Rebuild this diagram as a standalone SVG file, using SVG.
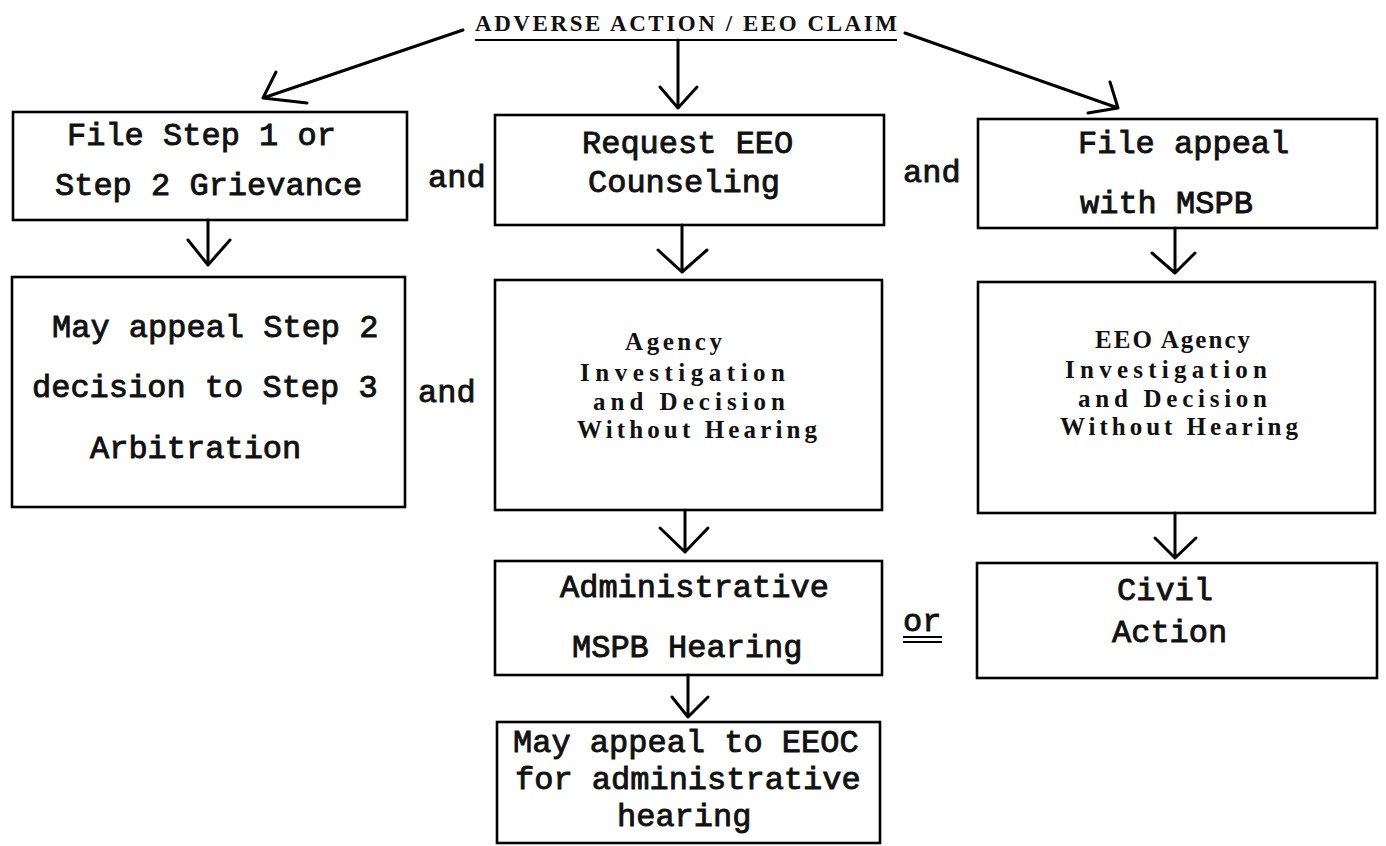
<svg xmlns="http://www.w3.org/2000/svg" width="1386" height="846" viewBox="0 0 1386 846">
<style>
.box{fill:none;stroke:#000;stroke-width:2.6}
.mono{font-family:"Liberation Mono","Courier New",monospace;font-size:32px;font-weight:normal;fill:#111;stroke:#111;stroke-width:0.9}
.serif{font-family:"Liberation Serif","Times New Roman",serif;font-size:25px;font-weight:bold;fill:#111}
.title{font-family:"Liberation Serif","Times New Roman",serif;font-size:23px;font-weight:bold;fill:#111}
.conn path{fill:none;stroke:#000;stroke-width:3;stroke-linecap:round;stroke-linejoin:round}
.ul{stroke:#000;stroke-width:2.2}
</style>
<rect width="1386" height="846" fill="#fff"/>
<g id="title">
  <text class="title" x="475" y="31" textLength="422" lengthAdjust="spacing">ADVERSE ACTION / EEO CLAIM</text>
  <line class="ul" x1="475" y1="40" x2="897" y2="40"/>
</g>
<g id="n1">
  <rect class="box" x="13" y="112" width="394" height="108"/>
  <text class="mono" x="67" y="145">File Step 1 or</text>
  <text class="mono" x="55" y="195">Step 2 Grievance</text>
</g>
<g id="n2">
  <rect class="box" x="495" y="115" width="389" height="110"/>
  <text class="mono" x="582" y="153">Request EEO</text>
  <text class="mono" x="588" y="192">Counseling</text>
</g>
<g id="n3">
  <rect class="box" x="978" y="119" width="399" height="109"/>
  <text class="mono" x="1078" y="153">File appeal</text>
  <text class="mono" x="1080" y="213">with MSPB</text>
</g>
<g id="n4">
  <rect class="box" x="12" y="277" width="393" height="230"/>
  <text class="mono" x="52" y="337">May appeal Step 2</text>
  <text class="mono" x="32" y="397">decision to Step 3</text>
  <text class="mono" x="90" y="458">Arbitration</text>
</g>
<g id="n5">
  <rect class="box" x="495" y="280" width="387" height="230"/>
  <text class="serif" x="625" y="350" textLength="97" lengthAdjust="spacing">Agency</text>
  <text class="serif" x="580" y="381" textLength="205" lengthAdjust="spacing">Investigation</text>
  <text class="serif" x="593" y="410" textLength="192" lengthAdjust="spacing">and Decision</text>
  <text class="serif" x="577" y="438" textLength="240" lengthAdjust="spacing">Without Hearing</text>
</g>
<g id="n6">
  <rect class="box" x="978" y="282" width="397" height="231"/>
  <text class="serif" x="1095" y="348" textLength="155" lengthAdjust="spacing">EEO Agency</text>
  <text class="serif" x="1065" y="378" textLength="202" lengthAdjust="spacing">Investigation</text>
  <text class="serif" x="1078" y="407" textLength="189" lengthAdjust="spacing">and Decision</text>
  <text class="serif" x="1060" y="435" textLength="238" lengthAdjust="spacing">Without Hearing</text>
</g>
<g id="n7">
  <rect class="box" x="495" y="561" width="387" height="114"/>
  <text class="mono" x="560" y="597">Administrative</text>
  <text class="mono" x="572" y="657">MSPB Hearing</text>
</g>
<g id="n8">
  <rect class="box" x="497" y="722" width="383" height="121"/>
  <text class="mono" x="513" y="752">May appeal to EEOC</text>
  <text class="mono" x="515" y="789">for administrative</text>
  <text class="mono" x="617" y="826">hearing</text>
</g>
<g id="n9">
  <rect class="box" x="977" y="563" width="400" height="115"/>
  <text class="mono" x="1117" y="600">Civil</text>
  <text class="mono" x="1112" y="642">Action</text>
</g>
<g id="labels">
  <text class="mono" x="428" y="187">and</text>
  <text class="mono" x="903" y="182">and</text>
  <text class="mono" x="418" y="402">and</text>
  <text class="mono" x="903" y="631">or</text>
  <line class="ul" x1="903" y1="637" x2="942" y2="637"/>
  <line class="ul" x1="903" y1="642" x2="942" y2="642"/>
</g>
<g id="connectors" class="conn">
  <path d="M463 30 L263 98 M276 72 L263 98 L307 103"/>
  <path d="M678 40 L678 108 M660 87 L678 108 L697 87"/>
  <path d="M905 33 L1118 108 M1110 82 L1118 108 L1088 113"/>
  <path d="M208 220 L208 265 M188 240 L208 265 L230 240"/>
  <path d="M682 225 L682 272 M658 250 L682 272 L707 250"/>
  <path d="M1175 228 L1175 273 M1152 253 L1175 273 L1195 253"/>
  <path d="M685 510 L685 552 M660 528 L685 552 L708 528"/>
  <path d="M688 675 L688 717 M672 697 L688 717 L708 697"/>
  <path d="M1175 513 L1175 558 M1155 538 L1175 558 L1196 538"/>
</g>
</svg>
